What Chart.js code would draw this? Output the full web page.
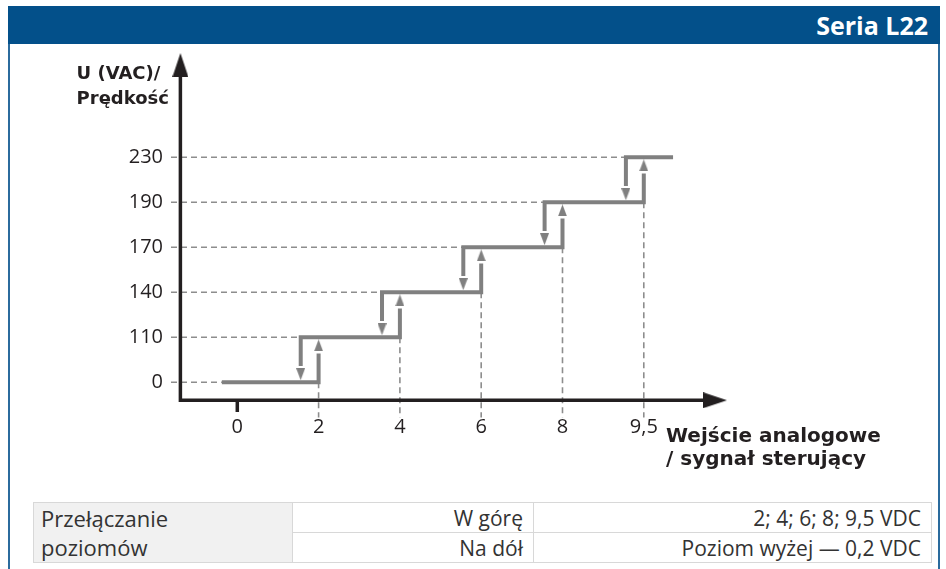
<!DOCTYPE html>
<html lang="pl">
<head>
    <meta charset="UTF-8">
    <title>Seria L22</title>
    <script src="https://cdn.jsdelivr.net/npm/chart.js"></script>
    <style>
        body {
            margin: 0;
            width: 946px;
            height: 569px;
            position: relative;
            overflow: hidden;
            background: #fff;
            font-family: "Open Sans", sans-serif;
            color: #231f20;
        }
        .header {
            position: absolute;
            left: 8px; top: 6px;
            width: 932px; height: 38px;
            box-sizing: border-box;
            padding-right: 12px;
            background: #03508a;
            color: #fff;
            font-weight: bold;
            font-size: 25px;
            line-height: 38px;
            text-align: right;
        }
        .frame {
            position: absolute;
            left: 8px; top: 44px;
            width: 932px; height: 530px;
            box-sizing: border-box;
            border-left: 2px solid #2b6b9d;
            border-right: 2px solid #2b6b9d;
        }
        .chart-box {
            position: absolute;
            left: 0; top: 0;
            width: 946px; height: 470px;
        }
        .title {
            position: absolute;
            font-family: "DejaVu Sans", sans-serif;
            font-weight: bold;
            color: #231f20;
            white-space: nowrap;
        }
        .y-title { right: 777px; top: 60px; font-size: 18px; line-height: 25px; text-align: left; }
        .x-title { left: 666px; top: 424px; font-size: 20px; line-height: 23px; }
        table.levels {
            position: absolute;
            left: 33px; top: 502px;
            width: 899px;
            border-collapse: collapse;
            font-size: 21px;
            color: #333;
        }
        table.levels td {
            border: 1.5px solid #d8d8d8;
            height: 29px;
            padding: 0 10px;
            text-align: right;
            white-space: nowrap;
        }
        table.levels td.head {
            width: 244px;
            padding: 0 7px;
            background: #f1f1f1;
            font-size: 22px;
            text-align: left;
            line-height: 29px;
        }
        table.levels td.mid { width: 220px; }
    </style>
</head>
<body>
    <div class="header">Seria L22</div>
    <div class="frame"></div>

    <div class="chart-box">
        <canvas id="levelChart"></canvas>
    </div>
    <div class="title y-title">U (VAC)/<br>Prędkość</div>
    <div class="title x-title">Wejście analogowe<br>/ sygnał sterujący</div>

    <table class="levels">
        <tr>
            <td class="head" rowspan="2">Przełączanie<br>poziomów</td>
            <td class="mid">W górę</td>
            <td>2; 4; 6; 8; 9,5 VDC</td>
        </tr>
        <tr>
            <td class="mid">Na dół</td>
            <td>Poziom wyżej — 0,2 VDC</td>
        </tr>
    </table>

    <script>
        // tick labels (one axis position per label)
        const xLabels = ['0', '2', '4', '6', '8', '9,5'];
        const yLabels = ['0', '110', '140', '170', '190', '230'];

        // switching points on the x axis, in axis positions
        const switchUp = [1, 2, 3, 4, 5];
        const switchDown = [0.78, 1.78, 2.78, 3.78, 4.78];
        const lineStart = -0.19;
        const lineEnd = 5.36;

        const STEP_GREY = '#808080';
        const DASH_GREY = '#8d8d8d';
        const AXIS_BLACK = '#231f20';

        const X_MIN = -0.8155, X_MAX = 6.085;
        const Y_MIN = -0.66, Y_MAX = 7.429;
        const AXIS_X = -0.70, AXIS_Y = -0.40;

        function makeArrow(w, h, color) {
            const c = document.createElement('canvas');
            c.width = w;
            c.height = h;
            const g = c.getContext('2d');
            g.fillStyle = color;
            g.beginPath();
            g.moveTo(w / 2, 0);
            g.lineTo(w, h);
            g.lineTo(0, h);
            g.closePath();
            g.fill();
            return c;
        }

        // join several polylines into one dataset, broken by null points
        function joinPaths(paths) {
            const out = [];
            paths.forEach(p => {
                p.forEach(pt => out.push(pt));
                out.push({ x: p[p.length - 1].x, y: null });
            });
            return out;
        }

        const HEAD_GAP = 0.36;  // vertical stops below the arrow head
        const HEAD_POS = 0.18;  // centre of the arrow head from the level

        // the hysteresis staircase
        const stepPaths = [[
            { x: lineStart, y: 0 },
            { x: switchUp[0], y: 0 },
            { x: switchUp[0], y: 1 - HEAD_GAP }
        ]];
        for (let i = 1; i < yLabels.length; i++) {
            const p = [
                { x: switchDown[i - 1], y: i - 1 + HEAD_GAP },
                { x: switchDown[i - 1], y: i }
            ];
            if (i < switchUp.length) {
                p.push({ x: switchUp[i], y: i }, { x: switchUp[i], y: i + 1 - HEAD_GAP });
            } else {
                p.push({ x: lineEnd, y: i });
            }
            stepPaths.push(p);
        }

        // small arrow heads on the verticals
        const heads = [], headRot = [];
        switchUp.forEach((x, i) => { heads.push({ x: x, y: i + 1 - HEAD_POS }); headRot.push(0); });
        switchDown.forEach((x, i) => { heads.push({ x: x, y: i + HEAD_POS }); headRot.push(180); });

        // dashed guide lines
        const guidePaths = [];
        yLabels.forEach((_, i) => {
            guidePaths.push([{ x: X_MIN, y: i }, { x: i === 0 ? lineStart : switchDown[i - 1], y: i }]);
        });
        switchUp.forEach((x, i) => {
            guidePaths.push([{ x: x, y: i }, { x: x, y: -0.78 }]);
        });

        // axes with arrows and the tick at 0
        const axisPaths = [
            [{ x: AXIS_X, y: 6.80 }, { x: AXIS_X, y: AXIS_Y }, { x: 5.74, y: AXIS_Y }],
            [{ x: 0, y: AXIS_Y }, { x: 0, y: -0.66 }]
        ];

        const smallHead = makeArrow(9, 12, STEP_GREY);
        const bigHead = makeArrow(16, 24, AXIS_BLACK);

        const tickFont = { family: 'Open Sans', size: 20 };

        new Chart(document.getElementById('levelChart'), {
            type: 'line',
            data: {
                datasets: [
                    {
                        data: heads,
                        showLine: false,
                        pointStyle: smallHead,
                        pointRotation: headRot,
                        pointRadius: 5,
                        pointBorderWidth: 0,
                        clip: false
                    },
                    {
                        data: joinPaths(stepPaths),
                        borderColor: STEP_GREY,
                        borderWidth: 4,
                        borderCapStyle: 'butt',
                        borderJoinStyle: 'miter',
                        pointRadius: 0,
                        clip: false
                    },
                    {
                        data: [{ x: AXIS_X, y: 7.051 }, { x: 5.876, y: AXIS_Y }],
                        showLine: false,
                        pointStyle: bigHead,
                        pointRotation: [0, 90],
                        pointRadius: 8,
                        pointBorderWidth: 0,
                        clip: false
                    },
                    {
                        data: joinPaths(axisPaths),
                        borderColor: AXIS_BLACK,
                        borderWidth: 3.5,
                        borderCapStyle: 'butt',
                        borderJoinStyle: 'miter',
                        pointRadius: 0,
                        clip: false
                    },
                    {
                        data: joinPaths(guidePaths),
                        borderColor: DASH_GREY,
                        borderWidth: 1.6,
                        borderDash: [6, 4],
                        pointRadius: 0,
                        clip: false
                    }
                ]
            },
            options: {
                responsive: true,
                maintainAspectRatio: false,
                animation: false,
                events: [],
                spanGaps: false,
                layout: { padding: { top: 48, right: 214, bottom: 0, left: 0 } },
                plugins: {
                    legend: { display: false },
                    tooltip: { enabled: false }
                },
                scales: {
                    x: {
                        type: 'linear',
                        min: X_MIN,
                        max: X_MAX,
                        grid: { display: false, drawTicks: false },
                        border: { display: false },
                        afterBuildTicks: s => { s.ticks = xLabels.map((_, i) => ({ value: i })); },
                        afterFit: s => { s.height = 58; },
                        ticks: {
                            callback: (v, i) => xLabels[i],
                            padding: 3,
                            autoSkip: false,
                            maxRotation: 0,
                            font: tickFont,
                            color: AXIS_BLACK
                        }
                    },
                    y: {
                        type: 'linear',
                        min: Y_MIN,
                        max: Y_MAX,
                        grid: { display: false, drawTicks: false },
                        border: { display: false },
                        afterBuildTicks: s => { s.ticks = yLabels.map((_, i) => ({ value: i })); },
                        afterFit: s => { s.width = 171; },
                        ticks: {
                            callback: (v, i) => yLabels[i],
                            padding: 8,
                            autoSkip: false,
                            font: tickFont,
                            color: AXIS_BLACK
                        }
                    }
                }
            }
        });
    </script>
</body>
</html>
